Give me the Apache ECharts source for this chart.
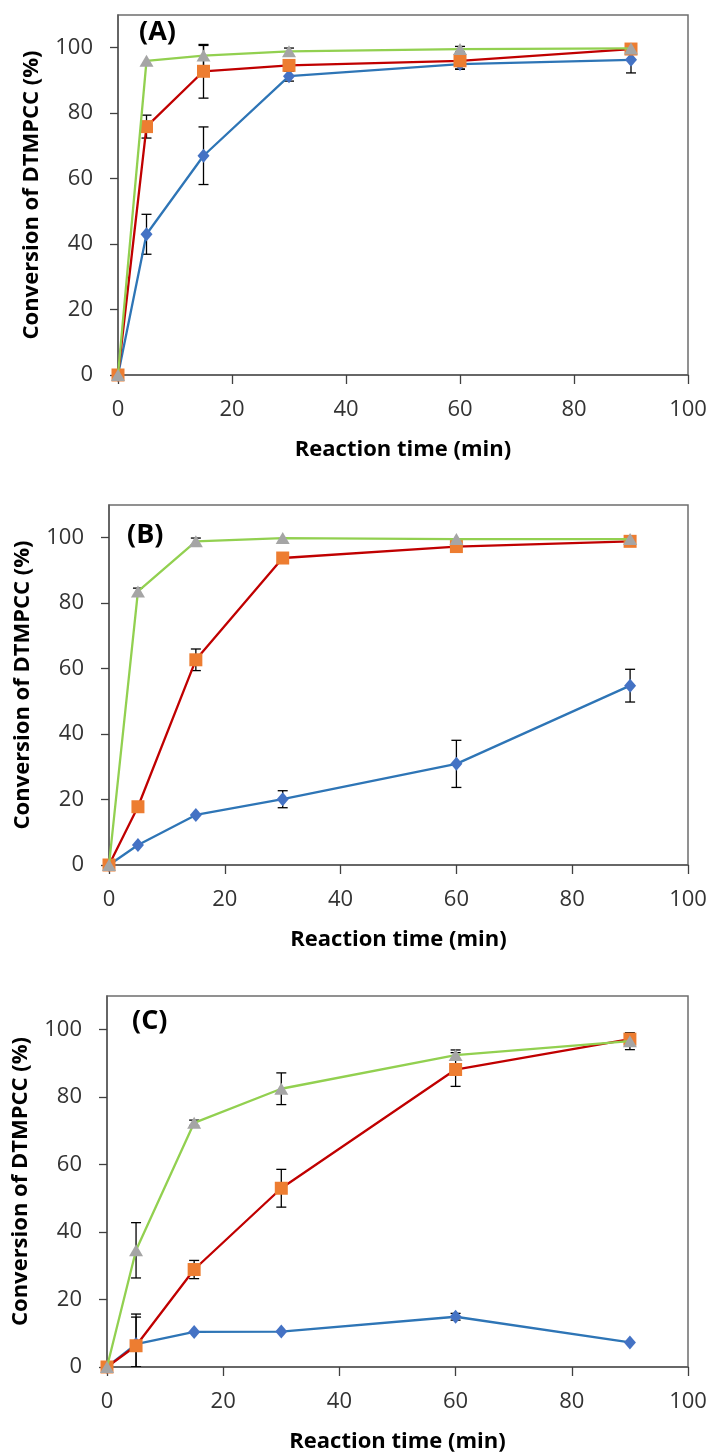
<!DOCTYPE html>
<html>
<head>
<meta charset="utf-8">
<script src="https://cdn.jsdelivr.net/npm/echarts@6/dist/echarts.min.js"></script>
<style>
  html, body { margin: 0; padding: 0; background: #fff; }
  #chart { width: 713px; height: 1455px; }
</style>
</head>
<body>
<div id="chart"></div>
<script>
// reaction times (min)
const timeMin = [0, 5, 15, 30, 60, 90];

// panel (A)
const aBlue = [0, 43.0, 67.0, 91.3, 95.0, 96.3];
const aBlueErr = [0, 6.1, 8.8, 1.5, 1.5, 4.0];
const aOrange = [0, 75.9, 92.8, 94.6, 96.0, 99.6];
const aOrangeErr = [0, 3.5, 8.2, 1.2, 2.6, 0];
const aGray = [0, 96.0, 97.6, 98.9, 99.6, 99.8];
const aGrayErr = [0, 0, 3.1, 1.0, 0.8, 0];

// panel (B)
const bBlue = [0, 6.1, 15.3, 20.1, 30.9, 54.8];
const bBlueErr = [0, 0, 0, 2.6, 7.2, 5.0];
const bOrange = [0, 17.8, 62.7, 93.8, 97.3, 98.9];
const bOrangeErr = [0, 1.5, 3.3, 0, 0, 0];
const bGray = [0, 83.6, 98.9, 99.9, 99.6, 99.6];
const bGrayErr = [0, 1.0, 1.0, 0, 0, 0];

// panel (C)
const cBlue = [0, 6.8, 10.4, 10.5, 14.9, 7.3];
const cBlueErr = [0, 8.0, 0, 0, 1.0, 0];
const cOrange = [0, 6.3, 28.9, 53.0, 88.2, 97.2];
const cOrangeErr = [0, 9.4, 2.7, 5.6, 5.0, 0];
const cGray = [0, 34.6, 72.4, 82.5, 92.5, 96.6];
const cGrayErr = [0, 8.2, 0.8, 4.7, 1.5, 2.5];

const panelLabels = ['(A)', '(B)', '(C)'];
const yTicks = [0, 20, 40, 60, 80, 100];

const FONT = '"Open Sans", "Noto Sans", sans-serif';

const panels = [
  { blue: aBlue, blueErr: aBlueErr, orange: aOrange, orangeErr: aOrangeErr, gray: aGray, grayErr: aGrayErr },
  { blue: bBlue, blueErr: bBlueErr, orange: bOrange, orangeErr: bOrangeErr, gray: bGray, grayErr: bGrayErr },
  { blue: cBlue, blueErr: cBlueErr, orange: cOrange, orangeErr: cOrangeErr, gray: cGray, grayErr: cGrayErr }
];

const grids = [
  { left: 118, top: 15, width: 570, height: 360 },
  { left: 109, top: 505, width: 579, height: 360 },
  { left: 107, top: 996, width: 581, height: 371 }
];

const labelPos = [[139, 37], [127, 540], [132, 1026]];

const styles = [
  { line: '#2E75B6', marker: '#4472C4', symbol: 'diamond', size: [12, 14] },
  { line: '#C00000', marker: '#ED7D31', symbol: 'rect', size: 13 },
  { line: '#92D050', marker: '#A5A5A5', symbol: 'triangle', size: [14, 12] }
];

function errorBars(vals, errs) {
  const out = [];
  vals.forEach((v, i) => {
    if (errs[i] > 0) out.push([timeMin[i], Math.max(0, v - errs[i]), v + errs[i]]);
  });
  return out;
}

function renderErrorBar(params, api) {
  const x = api.value(0);
  const lo = api.coord([x, api.value(1)]);
  const hi = api.coord([x, api.value(2)]);
  const w = 5;
  const style = { stroke: '#000', lineWidth: 1.3 };
  return {
    type: 'group',
    children: [
      { type: 'line', shape: { x1: hi[0], y1: hi[1], x2: lo[0], y2: lo[1] }, style },
      { type: 'line', shape: { x1: hi[0] - w, y1: hi[1], x2: hi[0] + w, y2: hi[1] }, style },
      { type: 'line', shape: { x1: lo[0] - w, y1: lo[1], x2: lo[0] + w, y2: lo[1] }, style }
    ]
  };
}

const xAxes = [];
const yAxes = [];
const series = [];
const graphics = [];

grids.forEach((g, k) => {
  xAxes.push({
    gridIndex: k,
    type: 'value',
    min: 0, max: 100, interval: 20,
    name: 'Reaction time (min)',
    nameLocation: 'middle',
    nameGap: 64,
    nameTextStyle: { fontFamily: FONT, fontSize: 22, fontWeight: 'bold', color: '#000' },
    axisLine: { lineStyle: { color: '#595959', width: 1.5 } },
    axisTick: { length: 9, lineStyle: { color: '#404040', width: 1.3 } },
    axisLabel: { margin: 24, fontFamily: FONT, fontSize: 22, color: '#333' },
    splitLine: { show: false }
  });
  yAxes.push({
    gridIndex: k,
    type: 'value',
    min: 0, max: 110,
    name: 'Conversion of DTMPCC (%)',
    nameLocation: 'middle',
    nameGap: 75,
    nameTextStyle: { fontFamily: FONT, fontSize: 22, fontWeight: 'bold', color: '#000' },
    axisLine: { show: true, lineStyle: { color: '#595959', width: 1.5 } },
    axisTick: { show: true, length: 8, customValues: yTicks, lineStyle: { color: '#404040', width: 1.3 } },
    axisLabel: { margin: 25, customValues: yTicks, fontFamily: FONT, fontSize: 22, color: '#333' },
    splitLine: { show: false }
  });

  const p = panels[k];
  const sets = [[p.blue, p.blueErr], [p.orange, p.orangeErr], [p.gray, p.grayErr]];

  sets.forEach(([vals, errs]) => {
    series.push({
      type: 'custom',
      xAxisIndex: k, yAxisIndex: k,
      renderItem: renderErrorBar,
      encode: { x: 0, y: [1, 2] },
      data: errorBars(vals, errs),
      clip: true,
      z: 1,
      silent: true
    });
  });

  sets.forEach(([vals], s) => {
    const st = styles[s];
    series.push({
      type: 'line',
      xAxisIndex: k, yAxisIndex: k,
      data: vals.map((v, i) => [timeMin[i], v]),
      symbol: st.symbol,
      symbolSize: st.size,
      showSymbol: true,
      clip: false,
      z: 2 + s,
      lineStyle: { color: st.line, width: 2.3 },
      itemStyle: { color: st.marker, borderWidth: 0 },
      emphasis: { disabled: true }
    });
  });

  graphics.push({
    type: 'text',
    left: labelPos[k][0],
    top: labelPos[k][1] - 18,
    style: { text: panelLabels[k], font: 'bold 27px ' + FONT, fill: '#000' }
  });
});

const chart = echarts.init(document.getElementById('chart'));
chart.setOption({
  backgroundColor: '#fff',
  animation: false,
  grid: grids.map(g => Object.assign({ show: true, borderColor: '#6e6e6e', borderWidth: 1.5, backgroundColor: 'transparent' }, g)),
  xAxis: xAxes,
  yAxis: yAxes,
  series: series,
  graphic: graphics
});
</script>
</body>
</html>
